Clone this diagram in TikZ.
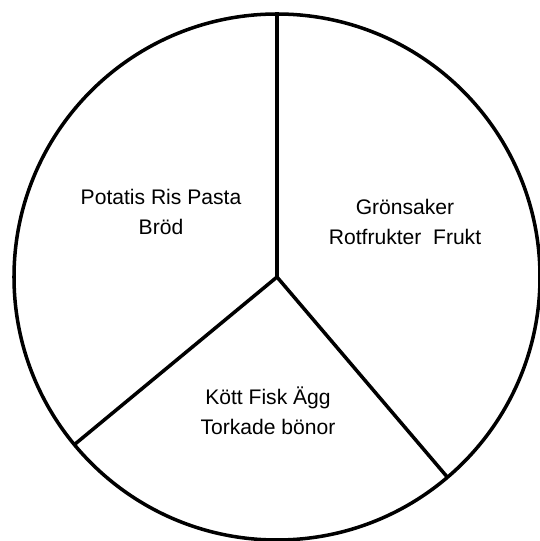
\documentclass[tikz,border=0pt]{standalone}
\usepackage{fontspec}
\setmainfont{Liberation Sans}
\begin{document}
\begin{tikzpicture}[line width=2pt, font=\fontsize{12}{16.8}\selectfont]
  \useasboundingbox (0,0) rectangle (10.8,10.82);
  \coordinate (hub) at (5.54,5.28);
  \draw (hub) circle (5.26);
  \draw (hub) -- ++(90:5.26) coordinate (top);
  \draw (hub) -- ++(219.6:5.26) coordinate (left);
  \draw (hub) -- ++(310.4:5.26) coordinate (right);

  \node[align=center] (grain) at (3.22,6.58) {Potatis Ris Pasta\\Bröd};
  \node[align=center] (veg) at (8.10,6.38) {Grönsaker\\Rotfrukter\ \ Frukt};
  \node[align=center] (meat) at (5.36,2.60) {Kött Fisk Ägg\\Torkade bönor};
\end{tikzpicture}
\end{document}
